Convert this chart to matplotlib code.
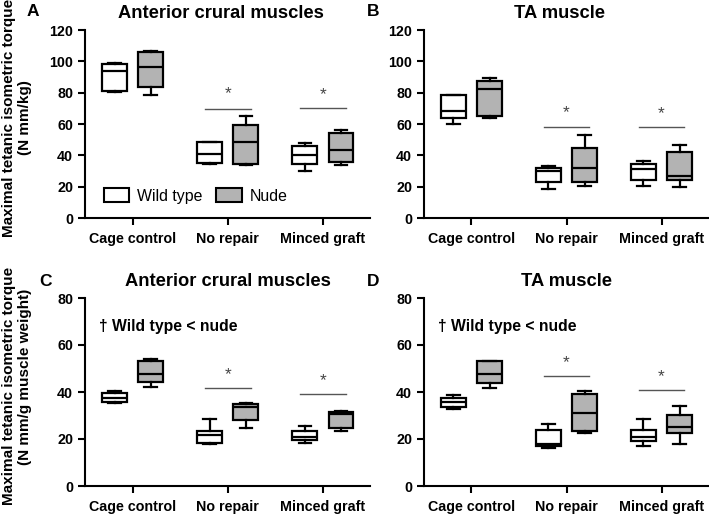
import matplotlib
matplotlib.use("Agg")
import matplotlib.pyplot as plt
from matplotlib.patches import Patch

plt.rcParams['font.family'] = ['Liberation Sans', 'DejaVu Sans']

categories = ["Cage control", "No repair", "Minced graft"]

# stats per panel: [group][genotype] = (min, q1, median, q3, max)
A_wt = [(80.3, 81.3, 93.7, 98.6, 98.8), (34.4, 35.0, 41.0, 48.2, 48.3), (29.7, 34.6, 40.4, 45.7, 47.8)]
A_nu = [(78.2, 83.3, 96.2, 105.8, 106.4), (34.0, 34.4, 48.2, 59.3, 64.8), (33.6, 35.9, 43.1, 54.2, 56.3)]
B_wt = [(60.1, 63.7, 68.0, 78.6, 78.7), (18.5, 22.9, 29.7, 31.9, 33.3), (20.6, 24.4, 31.2, 34.4, 36.1)]
B_nu = [(63.7, 65.2, 82.2, 87.5, 89.2), (20.2, 22.7, 31.9, 44.6, 53.1), (19.5, 24.4, 27.0, 42.1, 46.7)]
C_wt = [(35.2, 35.9, 37.6, 39.5, 40.5), (17.9, 18.2, 21.7, 23.6, 28.4), (18.2, 19.6, 21.0, 23.2, 25.7)]
C_nu = [(42.0, 44.3, 47.8, 53.3, 54.0), (24.6, 28.1, 33.8, 34.8, 35.5), (23.2, 24.6, 30.6, 31.6, 32.1)]
D_wt = [(32.8, 33.5, 35.9, 37.6, 38.8), (16.1, 17.1, 17.8, 23.9, 26.4), (17.1, 19.3, 21.0, 23.9, 28.6)]
D_nu = [(41.7, 43.8, 47.6, 53.3, 53.4), (22.5, 23.4, 31.0, 39.1, 40.5), (17.9, 22.5, 25.0, 30.3, 34.2)]

# significance bars for No repair and Minced graft: (line y, star y)
A_sig = [(69.7, 79.5), (70.1, 79.0)]
B_sig = [(57.8, 67.0), (57.8, 66.5)]
C_sig = [(41.6, 47.5), (39.2, 44.8)]
D_sig = [(46.6, 52.5), (40.7, 46.5)]

titles = ["Anterior crural muscles", "TA muscle", "Anterior crural muscles", "TA muscle"]
letters = ["A", "B", "C", "D"]
ylims = [120, 120, 80, 80]
yticks = [[0, 20, 40, 60, 80, 100, 120], [0, 20, 40, 60, 80, 100, 120], [0, 20, 40, 60, 80], [0, 20, 40, 60, 80]]

fig = plt.figure(figsize=(7.09, 5.16), dpi=100)
W, H = 709, 516
def ax_rect(l, r, t, b):
    return [l / W, 1 - b / H, (r - l) / W, (b - t) / H]

axes = [fig.add_axes(ax_rect(85, 370.5, 30, 218)),
        fig.add_axes(ax_rect(424, 709, 30, 218)),
        fig.add_axes(ax_rect(85, 370.5, 298, 486)),
        fig.add_axes(ax_rect(424, 709, 298, 486))]

data = [(A_wt, A_nu, A_sig), (B_wt, B_nu, B_sig), (C_wt, C_nu, C_sig), (D_wt, D_nu, D_sig)]
off = 0.19
bw = 0.26
gray = "#b3b3b3"
title_x = [0.476, 0.477, 0.5, 0.5]

def mk(st):
    return dict(whislo=st[0], q1=st[1], med=st[2], q3=st[3], whishi=st[4], fliers=[])

for i, ax in enumerate(axes):
    wt, nu, sig = data[i]
    for genos, shift, fc in ((wt, -off, "white"), (nu, off, gray)):
        stats = [mk(s) for s in genos]
        pos = [k + shift for k in range(3)]
        ax.bxp(stats, positions=pos, widths=bw, patch_artist=True, showfliers=False,
               boxprops=dict(facecolor=fc, edgecolor="black", linewidth=1.6),
               medianprops=dict(color="black", linewidth=1.6),
               whiskerprops=dict(color="black", linewidth=1.6),
               capprops=dict(color="black", linewidth=1.6),
               manage_ticks=False)
    for k, (ly, sy) in zip([1, 2], sig):
        ax.plot([k - 0.24, k + 0.24], [ly, ly], color="#555555", lw=1.0)
        ax.text(k, sy, "*", ha="center", va="center", fontsize=12.5, color="#444444")
    ax.set_xlim(-0.5, 2.5)
    ax.set_ylim(0, ylims[i])
    ax.set_yticks(yticks[i])
    ax.set_xticks(range(3))
    ax.set_xticklabels(categories)
    for s in ("top", "right"):
        ax.spines[s].set_visible(False)
    for s in ("left", "bottom"):
        ax.spines[s].set_linewidth(1.5)
    ax.tick_params(axis="both", width=1.5, length=5, direction="out", labelsize=10.3)
    ax.tick_params(axis="x", pad=5)
    for lab in ax.get_xticklabels() + ax.get_yticklabels():
        lab.set_fontweight("bold")
    ax.set_title(titles[i], fontsize=13.2, fontweight="bold", pad=9, x=title_x[i])

# panel letters
fig.text(27 / W, 1 - 12 / H, "A", fontsize=12.5, fontweight="bold", va="center")
fig.text(367 / W, 1 - 12 / H, "B", fontsize=12.5, fontweight="bold", va="center")
fig.text(39 / W, 1 - 281 / H, "C", fontsize=12.5, fontweight="bold", va="center")
fig.text(367 / W, 1 - 281 / H, "D", fontsize=12.5, fontweight="bold", va="center")

# dagger notes
for ax in (axes[2], axes[3]):
    ax.text(-0.35, 68, "\u2020 Wild type < nude", fontsize=11.3, fontweight="bold", va="center", ha="left")

# legend
handles = [Patch(facecolor="white", edgecolor="black", linewidth=1.5, label="Wild type"),
           Patch(facecolor=gray, edgecolor="black", linewidth=1.5, label="Nude")]
axes[0].legend(handles=handles, loc="center left", bbox_to_anchor=(0.065, 0.117), ncol=2,
               frameon=False, fontsize=11.4, handlelength=1.6, handleheight=1.0,
               handletextpad=0.5, columnspacing=0.9, borderpad=0, borderaxespad=0)

# y labels (two lines each)
lab_kw = dict(rotation=90, ha="center", va="center", fontsize=11, fontweight="bold")
fig.text(9 / W, 1 - 118 / H, "Maximal tetanic isometric torque", **lab_kw)
fig.text(25.5 / W, 1 - 118 / H, "(N mm/kg)", **lab_kw)
fig.text(9 / W, 1 - 386 / H, "Maximal tetanic isometric torque", **lab_kw)
fig.text(25.5 / W, 1 - 377 / H, "(N mm/g muscle weight)", **lab_kw)

fig.savefig("out.png", dpi=100)
